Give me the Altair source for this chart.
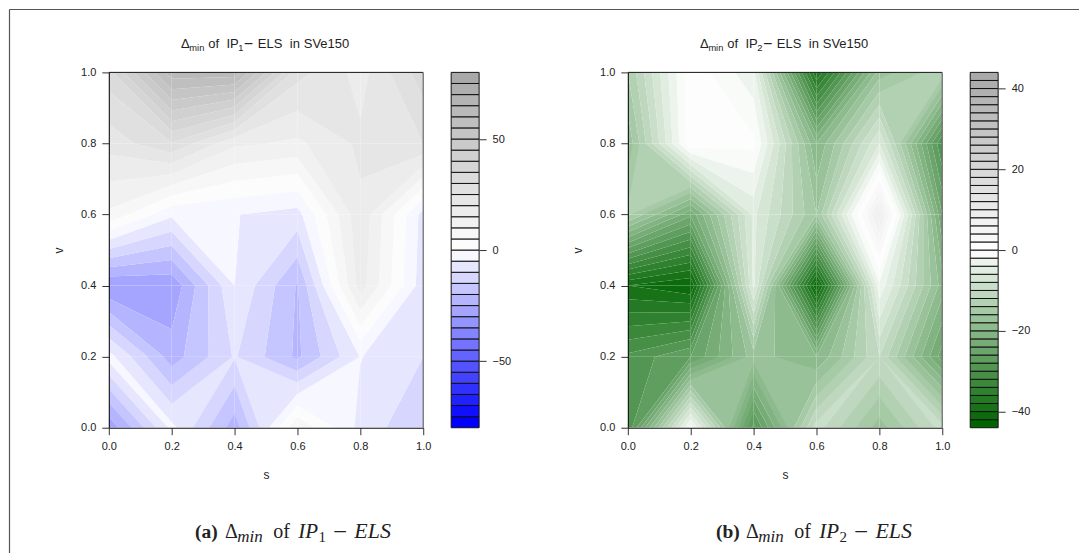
import altair as alt

# Grid axes
S_VALUES = [0.0, 0.2, 0.4, 0.6, 0.8, 1.0]
V_VALUES = [0.0, 0.2, 0.4, 0.6, 0.8, 1.0]

# Delta_min, rows are v = 0.0 ... 1.0, columns s = 0.0 ... 1.0
Z1 = [
    [-29.0, -3.5, -22.5, 9.5, -6.5, -15.0],
    [-3.0, -22.5, -9.5, -21.0, -4.8, -10.0],
    [-30.0, -29.0, -5.0, -20.5, 17.5, -8.0],
    [9.0, -4.0, -4.8, -7.0, 19.0, -7.0],
    [22.0, 29.5, 16.0, 14.0, 21.0, 25.0],
    [33.0, 63.0, 63.0, 27.0, 18.0, 33.0],
]
Z2 = [
    [-30.0, -1.0, -28.6, -9.0, -17.0, -9.0],
    [-29.5, -26.0, -17.0, -20.0, -10.0, -25.0],
    [-40.0, -42.0, -5.5, -42.0, -2.5, -19.0],
    [-13.5, -23.5, -5.5, -16.0, 9.0, -24.0],
    [-17.5, 1.5, 0.5, -20.0, -6.0, -30.0],
    [-14.0, 1.5, -3.5, -38.0, -17.0, -12.5],
]

LIM1, STEP1 = 80, 5
LIM2, STEP2 = 44, 2
TICKS1 = [-50, 0, 50]
TICKS2 = [-40, -20, 0, 20, 40]
LOW1 = (0, 0, 255)
LOW2 = (0, 100, 0)
MID = (255, 255, 255)
HIGH = (169, 169, 169)
AXIS_TICKS = [0.0, 0.2, 0.4, 0.6, 0.8, 1.0]

PW, PH = 315, 356
BW = 28
GAP = 28
X1, X2, Y0 = 108.0, 628.0, 71.5
INK = "#222222"
SANS = "Liberation Sans"
SERIF = "Liberation Serif"


def ramp(n, low):
    out = []
    for i in range(n):
        t = i / (n - 1)
        a, b, u = (low, MID, t * 2) if t <= 0.5 else (MID, HIGH, t * 2 - 1)
        c = [round(a[k] + (b[k] - a[k]) * u) for k in range(3)]
        out.append("#%02x%02x%02x" % tuple(c))
    return out


def band_poly(zs, pts, lo, hi):
    """Walk round a grid cell, keeping the parts of its edges lying inside [lo, hi]."""
    res = []
    for k in range(4):
        za, zb = zs[k], zs[(k + 1) % 4]
        pa, pb = pts[k], pts[(k + 1) % 4]
        if za == zb:
            if lo <= za <= hi:
                seg = (0.0, 1.0)
            else:
                continue
        else:
            t1, t2 = sorted(((lo - za) / (zb - za), (hi - za) / (zb - za)))
            t1, t2 = max(t1, 0.0), min(t2, 1.0)
            if t1 > t2:
                continue
            seg = (t1, t2)
        for t in seg:
            p = [pa[0] + (pb[0] - pa[0]) * t, pa[1] + (pb[1] - pa[1]) * t]
            if not res or abs(res[-1][0] - p[0]) + abs(res[-1][1] - p[1]) > 1e-9:
                res.append(p)
    if len(res) > 1 and abs(res[0][0] - res[-1][0]) + abs(res[0][1] - res[-1][1]) < 1e-9:
        res.pop()
    return res


def features(z, lim, step, colors):
    aspect = PH / PW
    feats = []
    levels = list(range(-lim, lim, step))
    for idx, lo in enumerate(levels):
        hi = lo + step
        for j in range(len(V_VALUES) - 1):
            for i in range(len(S_VALUES) - 1):
                zs = [z[j][i], z[j][i + 1], z[j + 1][i + 1], z[j + 1][i]]
                if max(zs) < lo or min(zs) > hi:
                    continue
                pts = [
                    [S_VALUES[i], V_VALUES[j] * aspect],
                    [S_VALUES[i + 1], V_VALUES[j] * aspect],
                    [S_VALUES[i + 1], V_VALUES[j + 1] * aspect],
                    [S_VALUES[i], V_VALUES[j + 1] * aspect],
                ]
                poly = band_poly(zs, pts, lo, hi)
                if len(poly) < 3:
                    continue
                ring = [[round(a, 6), round(b, 6)] for a, b in poly]
                ring.append(ring[0])
                feats.append({
                    "type": "Feature",
                    "properties": {"fill": colors[idx]},
                    "geometry": {"type": "Polygon", "coordinates": [ring]},
                })
    return feats


def text(t, px, py, size, font=SANS, style="normal", weight="normal", align="left", color=INK):
    return alt.Chart(alt.Data(values=[{"t": t}])).mark_text(
        font=font, fontSize=size, fontStyle=style, fontWeight=weight, align=align,
        baseline="alphabetic", color=color, clip=False,
    ).encode(x=alt.value(px), y=alt.value(py), text="t:N")


def panel(z, lim, step, low, origin, num, frame=False):
    colors = ramp(2 * lim // step, low)
    shapes = alt.Chart(alt.Data(values=features(z, lim, step, colors))).mark_geoshape().encode(
        fill=alt.Fill("properties.fill:N", scale=None)
    ).project(type="identity", reflectY=True, scale=PW, translate=[0, PH])

    tick_df = alt.Data(values=[{"s": a, "v": a} for a in AXIS_TICKS])
    axis_kw = dict(
        values=AXIS_TICKS, format=".1f", grid=False, domainColor="#111111", domainWidth=1.1,
        tickColor="#333333", tickWidth=1, tickSize=7, labelFont=SANS, labelFontSize=11,
        labelColor=INK, titleFont=SANS, titleFontSize=12, titleColor=INK,
        titleFontWeight="normal", zindex=1, labelFlush=False, labelOverlap=False,
    )
    axes = alt.Chart(tick_df).mark_point(opacity=0).encode(
        x=alt.X("s:Q", scale=alt.Scale(domain=[0, 1], nice=False),
                axis=alt.Axis(title="s", labelPadding=6, titlePadding=18, **axis_kw)),
        y=alt.Y("v:Q", scale=alt.Scale(domain=[0, 1], nice=False),
                axis=alt.Axis(title="v", labelPadding=6, titlePadding=15, **axis_kw)),
    )
    top = alt.Chart(alt.Data(values=[{}])).mark_rule(color="#111111", strokeWidth=1).encode(
        x=alt.value(0), x2=alt.value(PW), y=alt.value(0))
    right = alt.Chart(alt.Data(values=[{}])).mark_rule(color="#666666", strokeWidth=1.2).encode(
        x=alt.value(PW), y=alt.value(0), y2=alt.value(PH))

    def T(t, px, py, size, **kw):
        return text(t, px - origin, py - Y0, size, **kw)

    d = origin - X1
    cap = d + (2 if num == "2" else 0)
    pieces = [
        T("Δ", 180.3 + d, 47.3, 13),
        T("min", 188.7 + d, 49.8, 9.3),
        T("of", 207.7 + d, 47.3, 13),
        T("IP", 225.8 + d, 47.3, 13),
        T(num, 237.6 + d, 49.8, 9.3),
        T("−", 243.3 + d, 48.3, 16),
        T("ELS", 257.3 + d, 47.3, 13),
        T("in", 289.3 + d, 47.3, 13),
        T("SVe150", 303.3 + d, 47.3, 13),
        T("(a)" if num == "1" else "(b)", 194.3 + cap, 538.3, 19.5, font=SERIF, weight="bold"),
        T("Δ", 224.3 + cap, 538.3, 20, font=SERIF),
        T("min", 236.7 + cap, 542, 17, font=SERIF, style="italic"),
        T("of", 272.7 + cap, 538.3, 20, font=SERIF),
        T("IP", 297.7 + cap, 538.3, 21, font=SERIF, style="italic"),
        T(num, 318 + cap, 542, 15, font=SERIF),
        T("−", 332.7 + cap, 539.5, 25, font=SERIF),
        T("ELS", 354 + cap, 538.3, 22, font=SERIF, style="italic"),
    ]
    layers = [shapes, axes, top, right] + pieces
    if frame:
        left_px = 0.5 - (X1 - 8)
        top_px = 0.5 - (Y0 - 8)
        layers += [
            alt.Chart(alt.Data(values=[{}])).mark_rule(color="#555555", strokeWidth=1.2).encode(
                x=alt.value(left_px), y=alt.value(top_px), y2=alt.value(553 - 8 - (Y0 - 8))),
            alt.Chart(alt.Data(values=[{}])).mark_rule(color="#555555", strokeWidth=1.2).encode(
                x=alt.value(left_px), x2=alt.value(1080 - X1), y=alt.value(top_px)),
        ]
    return alt.layer(*layers).properties(width=PW, height=PH)


def colorbar(lim, step, low, ticks):
    colors = ramp(2 * lim // step, low)
    rows = [{"lo": -lim + k * step, "hi": -lim + (k + 1) * step, "fill": colors[k], "a": 0, "b": 1}
            for k in range(len(colors))]
    bars = alt.Chart(alt.Data(values=rows)).mark_rect(stroke="#111111", strokeWidth=1).encode(
        x=alt.X("a:Q", axis=None, scale=alt.Scale(domain=[0, 1], nice=False)),
        x2="b:Q",
        y=alt.Y("lo:Q", title=None, scale=alt.Scale(domain=[-lim, lim], nice=False),
                axis=alt.Axis(orient="right", values=ticks, grid=False, domain=False,
                              tickColor="#333333", tickSize=7, tickWidth=1, labelFont=SANS,
                              labelFontSize=11, labelColor=INK, labelPadding=6, format="d",
                              labelOverlap=False, labelFlush=False,
                              labelExpr="replace(datum.label, '-', '\u2212')")),
        y2="hi:Q",
        fill=alt.Fill("fill:N", scale=None),
    )
    return bars.properties(width=BW, height=PH)


spacer = alt.Chart(alt.Data(values=[{"a": 0}])).mark_point(opacity=0).encode(
    x=alt.X("a:Q", axis=None), y=alt.Y("a:Q", axis=None)
).properties(width=X2 - X1 - PW - BW - 3 * GAP, height=PH)

chart = alt.hconcat(
    panel(Z1, LIM1, STEP1, LOW1, X1, "1", frame=True),
    colorbar(LIM1, STEP1, LOW1, TICKS1),
    spacer,
    panel(Z2, LIM2, STEP2, LOW2, X2, "2"),
    colorbar(LIM2, STEP2, LOW2, TICKS2),
    spacing=GAP, bounds="flush", padding=0,
).resolve_scale(x="independent", y="independent").configure_view(stroke=None)

chart.save("out.html", embed_options={"renderer": "svg", "actions": False})
